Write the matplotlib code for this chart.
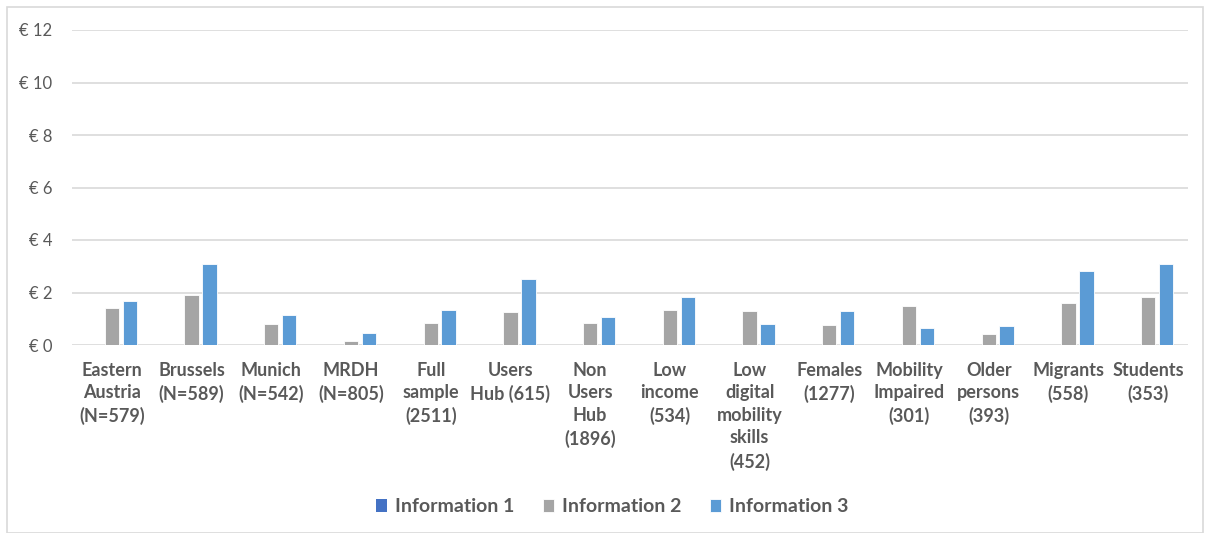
import numpy as np
import matplotlib.pyplot as plt
from matplotlib.patches import Rectangle

# data
categories = ['Eastern\nAustria\n(N=579)', 'Brussels\n(N=589)', 'Munich\n(N=542)', 'MRDH\n(N=805)',
              'Full\nsample\n(2511)', 'Users\nHub (615)', 'Non\nUsers\nHub\n(1896)', 'Low\nincome\n(534)',
              'Low\ndigital\nmobility\nskills\n(452)', 'Females\n(1277)', 'Mobility\nImpaired\n(301)',
              'Older\npersons\n(393)', 'Migrants\n(558)', 'Students\n(353)']
info1 = [0, 0, 0, 0, 0, 0, 0, 0, 0, 0, 0, 0, 0, 0]
info2 = [1.40, 1.91, 0.81, 0.14, 0.85, 1.24, 0.85, 1.33, 1.29, 0.77, 1.49, 0.41, 1.60, 1.83]
info3 = [1.68, 3.10, 1.13, 0.46, 1.32, 2.51, 1.05, 1.83, 0.81, 1.29, 0.65, 0.73, 2.82, 3.10]
yticks = [0, 2, 4, 6, 8, 10, 12]

c1, c2, c3 = '#4472C4', '#A5A5A5', '#5B9BD5'
txt = '#595959'
plt.rcParams['font.family'] = ['Lato', 'DejaVu Sans']

fig = plt.figure(figsize=(12.05, 5.33), dpi=100)
ax = fig.add_axes([72 / 1205, 1 - 345 / 533, (1188 - 72) / 1205, (345 - 30) / 533])

x = np.arange(len(categories))
w = 0.18
ax.bar(x - 0.225, info1, w, color=c1, label='Information 1')
ax.bar(x, info2, w, color=c2, label='Information 2', edgecolor='white', linewidth=0.6)
ax.bar(x + 0.225, info3, w, color=c3, label='Information 3', edgecolor='white', linewidth=0.6)

ax.set_xlim(-0.5, len(categories) - 0.5)
ax.set_ylim(0, 12)
ax.set_yticks(yticks)
ax.set_yticklabels(['€ %d' % v for v in yticks], color=txt, fontsize=12)
ax.set_xticks(x)
ax.set_xticklabels(categories, color=txt, fontsize=13, fontweight='bold',
                   va='top', linespacing=1.4)
ax.tick_params(axis='both', length=0)
ax.tick_params(axis='y', pad=14)
ax.tick_params(axis='x', pad=12)
ax.yaxis.grid(True, color='#D9D9D9', linewidth=1.2)
ax.set_axisbelow(True)
for s in ax.spines.values():
    s.set_visible(False)

leg = fig.legend(loc='center', bbox_to_anchor=(612 / 1205, 1 - 507 / 533), ncol=3, frameon=False,
                 fontsize=14, handlelength=0.6, handleheight=0.6, columnspacing=1.45, handletextpad=0.4)
for t in leg.get_texts():
    t.set_color(txt)
    t.set_fontweight('bold')

fig.patches.append(Rectangle((7 / 1205, 0), 1196 / 1205, 1 - 7 / 533, transform=fig.transFigure,
                             fill=False, edgecolor='#D9D9D9', linewidth=1.2))

fig.savefig('out.png', dpi=100)
